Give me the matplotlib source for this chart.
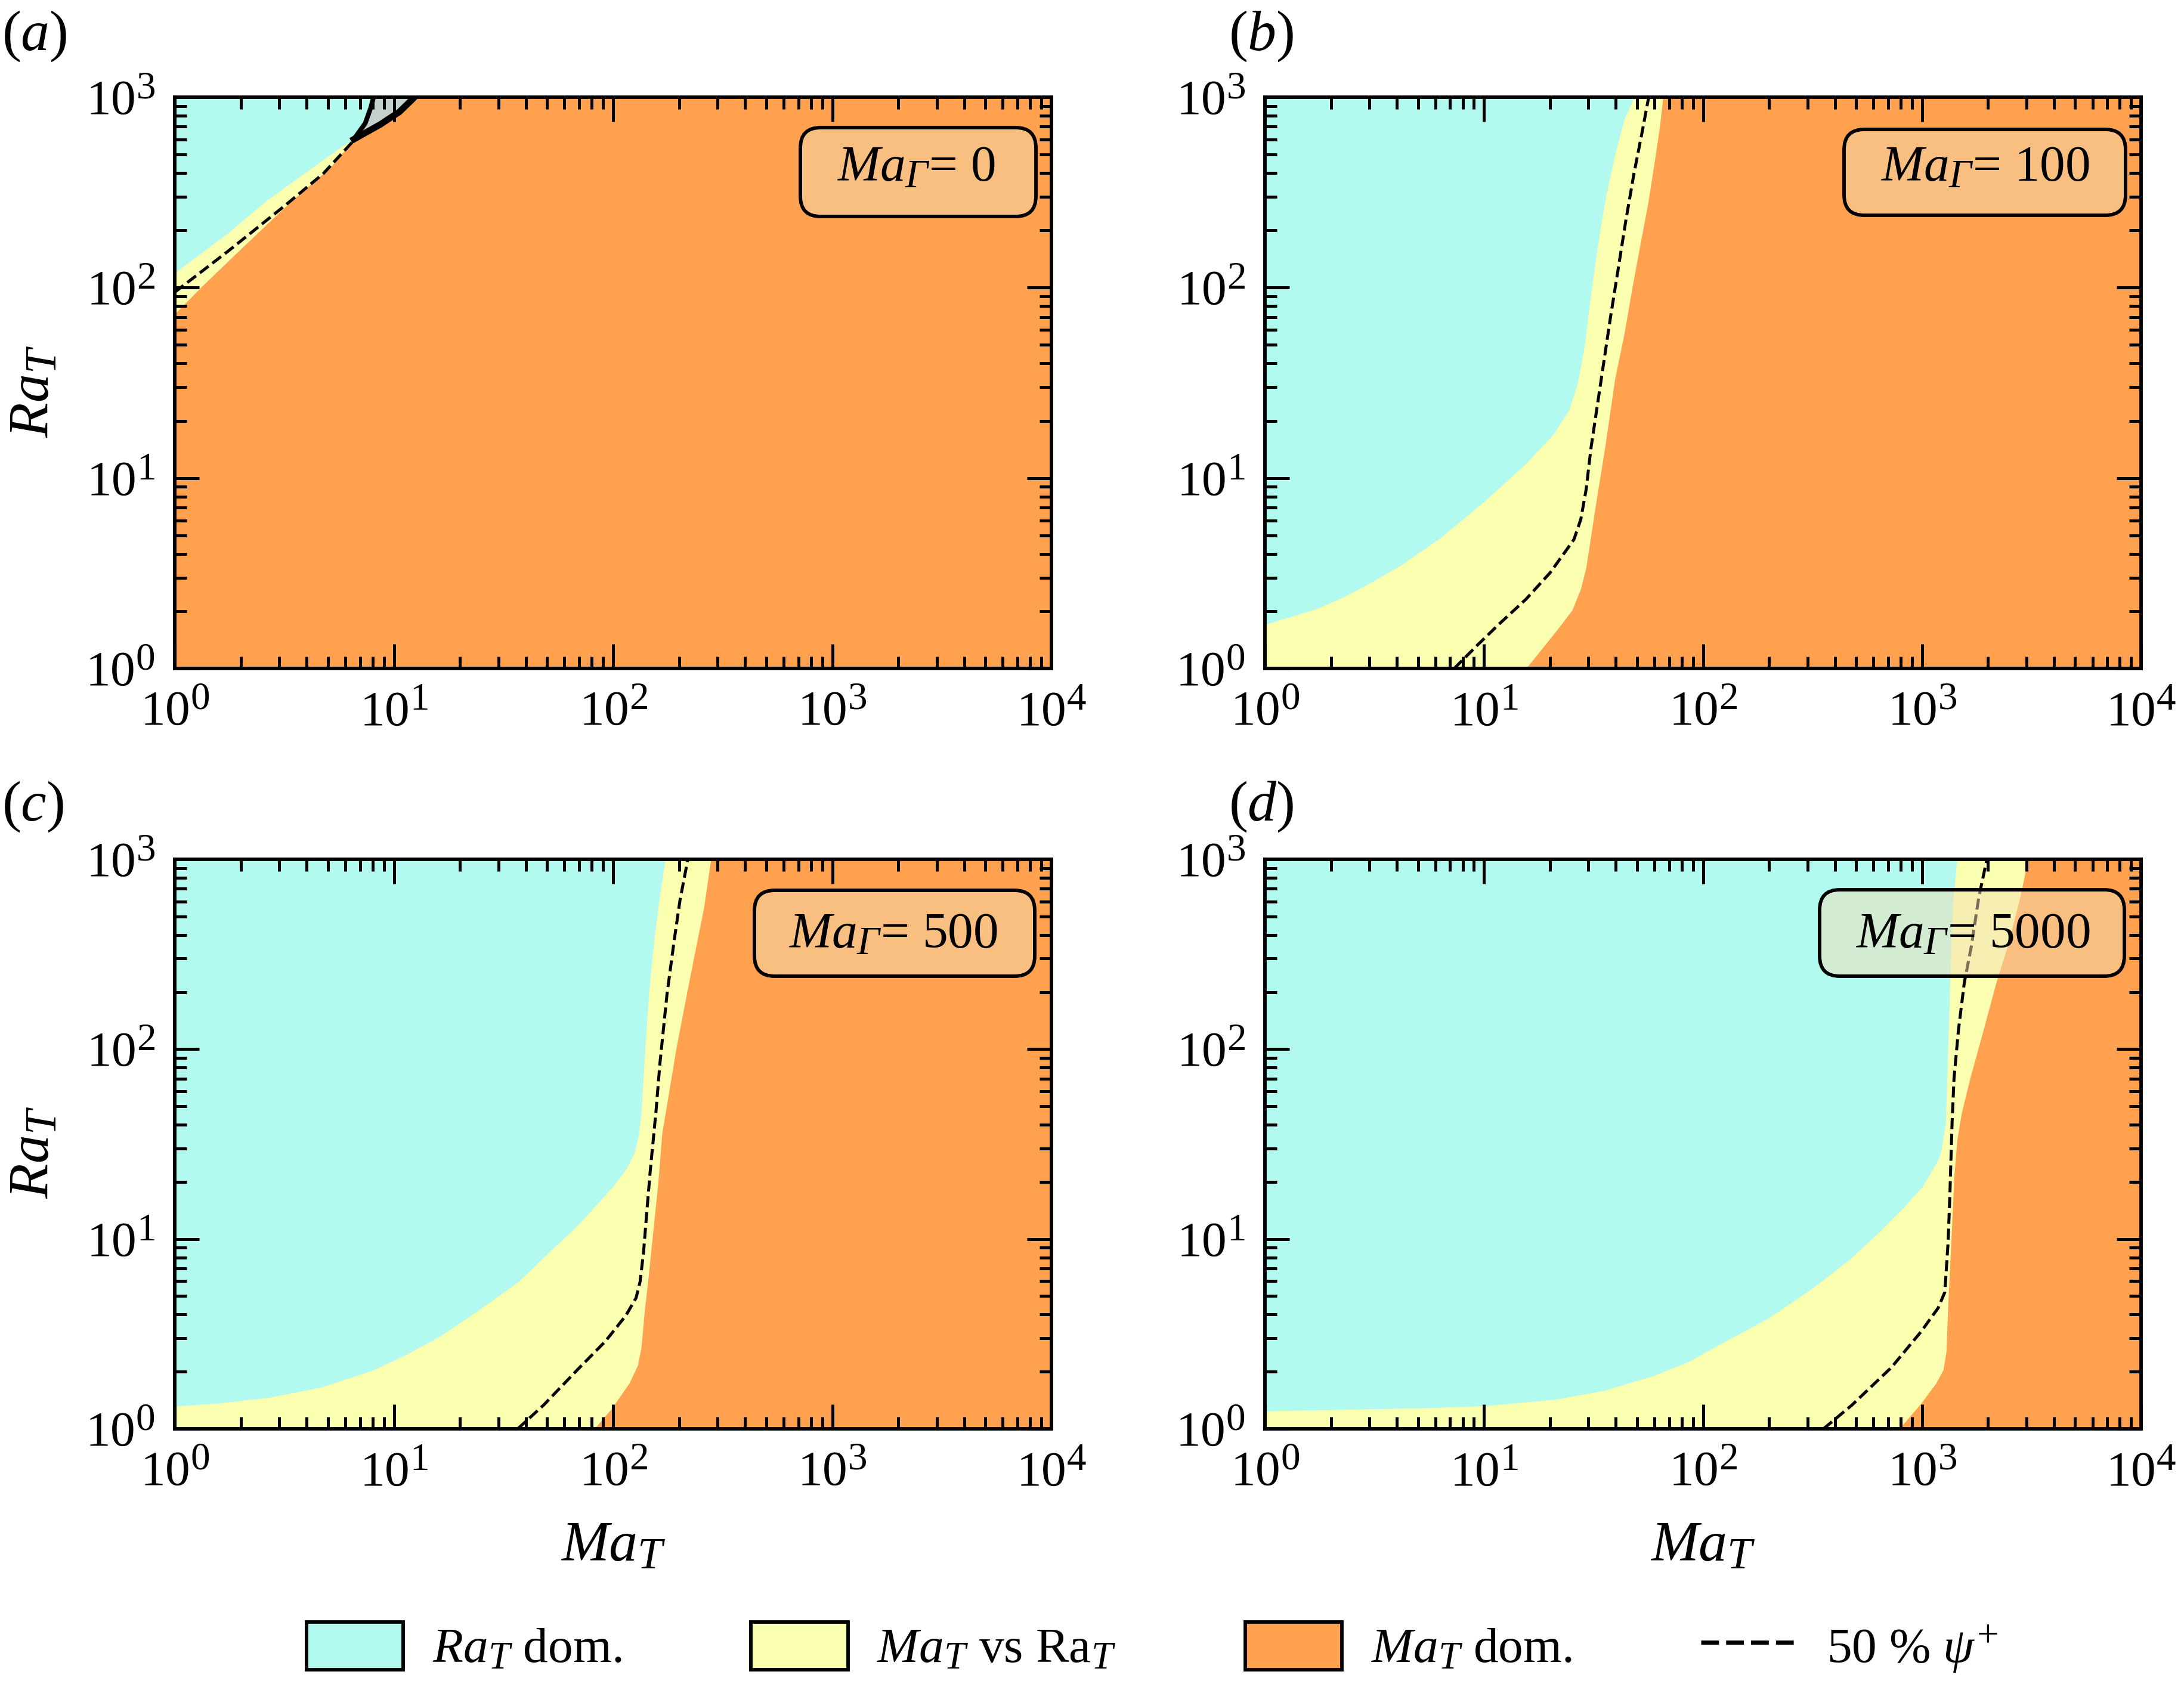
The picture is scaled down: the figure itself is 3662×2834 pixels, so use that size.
import matplotlib
matplotlib.use('Agg')
import matplotlib.pyplot as plt
import matplotlib._mathtext as mt
import numpy as np
from matplotlib.lines import Line2D
from matplotlib.patches import FancyBboxPatch, Patch
from matplotlib.ticker import LogLocator, NullFormatter
from matplotlib.transforms import IdentityTransform

# data, as log10(Ma_T), log10(Ra_T)
a_cyan_x = [0, .244, .417, .591, .765, .817, .869, .895, .907]
a_cyan_y = [2.078, 2.288, 2.456, 2.6, 2.744, 2.779, 2.863, 2.947, 3.0]
a_orange_x = [0, .123, .313, .522, .713, .817, .938, 1.025, 1.115]
a_orange_y = [1.862, 2.006, 2.216, 2.444, 2.635, 2.779, 2.857, 2.923, 3.0]
a_dash_x = [0, .244, .504, .678, .817]
a_dash_y = [1.976, 2.192, 2.432, 2.599, 2.773]
a_edge1_x = [.817, .869, .895, .907]
a_edge1_y = [2.779, 2.863, 2.947, 3.0]
a_edge2_x = [.817, .938, 1.025, 1.094]
a_edge2_y = [2.779, 2.857, 2.923, 3.0]

b_cyan_x = [0, .239, .364, .489, .614, .80, 1.005, 1.192, 1.317, 1.3875, 1.427, 1.459, 1.477, 1.504, 1.531, 1.558, 1.595, 1.64, 1.685]
b_cyan_y = [.231, .315, .378, .455, .538, .685, .881, 1.077, 1.231, 1.357, 1.497, 1.694, 1.871, 2.10, 2.31, 2.488, 2.686, 2.884, 3.0]
b_orange_x = [1.192, 1.348, 1.403, 1.442, 1.466, 1.505, 1.552, 1.598, 1.64, 1.676, 1.713, 1.749, 1.776, 1.803, 1.817]
b_orange_y = [0, .224, .308, .42, .531, .825, 1.161, 1.524, 1.757, 1.997, 2.227, 2.446, 2.644, 2.853, 3.0]
b_dash_x = [.864, .973, 1.067, 1.192, 1.302, 1.372, 1.411, 1.442, 1.466, 1.489, 1.536, 1.577, 1.613, 1.649, 1.685, 1.721, 1.752]
b_dash_y = [0, .126, .231, .364, .503, .615, .678, .783, .937, 1.161, 1.524, 1.84, 2.10, 2.362, 2.60, 2.81, 3.0]

c_cyan_x = [0, .199, .433, .668, .902, 1.058, 1.214, 1.37, 1.566, 1.697, 1.833, 1.924, 2.006, 2.06, 2.096, 2.115, 2.128, 2.146, 2.164, 2.187, 2.214, 2.238]
c_cyan_y = [.119, .135, .166, .219, .308, .392, .491, .612, .773, .919, 1.066, 1.181, 1.286, 1.37, 1.453, 1.537, 1.663, 2.013, 2.314, 2.578, 2.819, 3.0]
c_orange_x = [1.914, 1.995, 2.073, 2.112, 2.128, 2.143, 2.16, 2.205, 2.223, 2.246, 2.287, 2.323, 2.368, 2.414, 2.446]
c_orange_y = [0, .109, .24, .334, .428, .617, .793, 1.296, 1.556, 1.715, 2.0, 2.217, 2.482, 2.746, 3.0]
c_dash_x = [1.565, 1.683, 1.839, 1.964, 2.058, 2.105, 2.123, 2.139, 2.155, 2.169, 2.196, 2.214, 2.246, 2.278, 2.305, 2.341]
c_dash_y = [0, .125, .313, .46, .596, .69, .774, .931, 1.16, 1.352, 1.676, 1.929, 2.29, 2.566, 2.783, 3.0]

d_cyan_x = [0, .421, .76, 1.0, 1.324, 1.55, 1.776, 1.934, 2.115, 2.30, 2.50, 2.665, 2.802, 2.911, 3.001, 3.074, 3.087, 3.107, 3.116, 3.127, 3.14, 3.16]
d_cyan_y = [.094, .103, .111, .121, .155, .202, .281, .354, .469, .584, .741, .888, 1.034, 1.16, 1.275, 1.417, 1.467, 1.607, 1.93, 2.35, 2.771, 3.0]
d_orange_x = [2.896, 2.995, 3.063, 3.097, 3.11, 3.119, 3.133, 3.146, 3.16, 3.18, 3.219, 3.279, 3.338, 3.391, 3.444, 3.484]
d_orange_y = [0, .134, .239, .312, .406, .668, .993, 1.327, 1.523, 1.663, 1.846, 2.098, 2.35, 2.547, 2.785, 3.0]
d_dash_x = [2.55, 2.679, 2.86, 2.995, 3.074, 3.104, 3.119, 3.127, 3.137, 3.146, 3.166, 3.193, 3.226, 3.259, 3.296]
d_dash_y = [0, .124, .323, .511, .637, .72, .982, 1.228, 1.607, 1.846, 2.098, 2.35, 2.547, 2.799, 3.0]

panel_letters = ['a', 'b', 'c', 'd']
ma_gamma = ['0', '100', '500', '5000']

CYAN = '#b2f9ef'
YELLOW = '#fbffb0'
ORANGE = '#ffa14f'
W, H = 3662, 2834

mt.SHRINK_FACTOR = 0.78  # script size in the original is larger than matplotlib's 0.7
plt.rcParams['font.family'] = 'Liberation Serif'
plt.rcParams['mathtext.fontset'] = 'custom'
plt.rcParams['mathtext.rm'] = 'Liberation Serif'
plt.rcParams['mathtext.it'] = 'Liberation Serif:italic'
plt.rcParams['mathtext.cal'] = 'Liberation Serif:italic'  # \mathcal gives an italic capital Gamma
plt.rcParams['mathtext.default'] = 'regular'
plt.rcParams['font.size'] = 20

fig = plt.figure(figsize=(W / 300, H / 300), dpi=300)

# axes edges in pixels: left, right, top, bottom
axes_px = [(293, 1763, 163, 1121), (2121, 3590, 163, 1121),
           (293, 1763, 1441, 2396), (2121, 3590, 1441, 2396)]
boxes_px = [(1342, 1737, 214, 363), (3092, 3564, 217, 361),
            (1265, 1735, 1493, 1637), (3051, 3562, 1492, 1637)]
text_px = [(1403, 303), (3153, 303), (1322, 1589), (3111, 1589)]
letter_px = [(3, 84), (2060, 84), (3, 1376), (2060, 1376)]

cyans = [(a_cyan_x, a_cyan_y), (b_cyan_x, b_cyan_y), (c_cyan_x, c_cyan_y), (d_cyan_x, d_cyan_y)]
oranges = [(a_orange_x, a_orange_y), (b_orange_x, b_orange_y), (c_orange_x, c_orange_y), (d_orange_x, d_orange_y)]
dashes = [(a_dash_x, a_dash_y), (b_dash_x, b_dash_y), (c_dash_x, c_dash_y), (d_dash_x, d_dash_y)]

for i in range(4):
    l, r, t, b = axes_px[i]
    ax = fig.add_axes([l / W, 1 - b / H, (r - l) / W, (b - t) / H])
    ax.set_xscale('log')
    ax.set_yscale('log')
    ax.set_facecolor(ORANGE)

    ox, oy = 10 ** np.array(oranges[i][0]), 10 ** np.array(oranges[i][1])
    cx, cy = 10 ** np.array(cyans[i][0]), 10 ** np.array(cyans[i][1])
    ax.fill_betweenx(oy, 1, ox, color=YELLOW, lw=0)
    ax.fill_betweenx(cy, 1, cx, color=CYAN, lw=0)

    if i == 0:
        e1x, e1y = 10 ** np.array(a_edge1_x), 10 ** np.array(a_edge1_y)
        e2x, e2y = 10 ** np.array(a_edge2_x), 10 ** np.array(a_edge2_y)
        ax.fill(np.r_[e1x, e2x[::-1]], np.r_[e1y, e2y[::-1]], color='#c4d0ce', lw=0)
        ax.plot(e1x, e1y, color='k', lw=1.9)
        ax.plot(e2x, e2y, color='k', lw=2.6)

    ax.plot(10 ** np.array(dashes[i][0]), 10 ** np.array(dashes[i][1]), 'k--', lw=1.2)

    ax.set_xlim(1, 1e4)
    ax.set_ylim(1, 1e3)
    for axis, n in ((ax.xaxis, 5), (ax.yaxis, 4)):
        axis.set_major_locator(LogLocator(base=10, numticks=n))
        axis.set_minor_locator(LogLocator(base=10, subs=np.arange(2, 10), numticks=n))
        axis.set_minor_formatter(NullFormatter())
    ax.tick_params(which='major', direction='in', top=True, right=True, length=9.8, width=1.2, labelsize=20, pad=9)
    ax.tick_params(which='minor', direction='in', top=True, right=True, length=4.8, width=1.2)
    ax.tick_params(axis='y', which='major', pad=8)
    for s in ax.spines.values():
        s.set_linewidth(1.4)

    if i in (0, 2):
        ax.set_ylabel(r'$\mathit{Ra}_{\mathit{T}}$', fontsize=23)
        ax.yaxis.set_label_coords(-0.13, 0.485)
    if i in (2, 3):
        ax.set_xlabel(r'$\mathit{Ma}_{\mathit{T}}$', fontsize=23)
        ax.xaxis.set_label_coords(0.5, -0.163)

    x0, x1, y0, y1 = boxes_px[i]
    ax.add_patch(FancyBboxPatch((x0, H - y1), x1 - x0, y1 - y0, boxstyle='round,pad=0,rounding_size=34',
                                transform=IdentityTransform(), facecolor=(245 / 255, 222 / 255, 179 / 255, 0.5),
                                edgecolor='k', lw=1.4, zorder=5))
    ax.text(text_px[i][0], H - text_px[i][1], r'$\mathit{Ma}_{\mathcal{\Gamma}}$= ' + ma_gamma[i],
            transform=IdentityTransform(), fontsize=20.5, va='baseline', ha='left', zorder=6)

    fig.text(letter_px[i][0] / W, 1 - letter_px[i][1] / H, '($\\mathit{%s}$)' % panel_letters[i],
             fontsize=23, va='baseline', ha='left')

handles = [Patch(facecolor=CYAN, edgecolor='k', lw=1.4),
           Patch(facecolor=YELLOW, edgecolor='k', lw=1.4),
           Patch(facecolor=ORANGE, edgecolor='k', lw=1.4),
           Line2D([], [], color='k', lw=1.7, dashes=(4.2, 1.7))]
labels = [r'$\mathit{Ra}_{\mathit{T}}$ dom.', r'$\mathit{Ma}_{\mathit{T}}$ vs Ra$_{\mathit{T}}$',
          r'$\mathit{Ma}_{\mathit{T}}$ dom.', r'50 % $\mathit{\psi}^{+}$']
fig.legend(handles, labels, ncol=4, frameon=False, loc='center', bbox_to_anchor=(1932 / W, 1 - 2764 / H),
           fontsize=20, handlelength=1.95, handleheight=1.1, handletextpad=0.58, columnspacing=2.6, borderpad=0)

fig.savefig('out.png', dpi=300)
